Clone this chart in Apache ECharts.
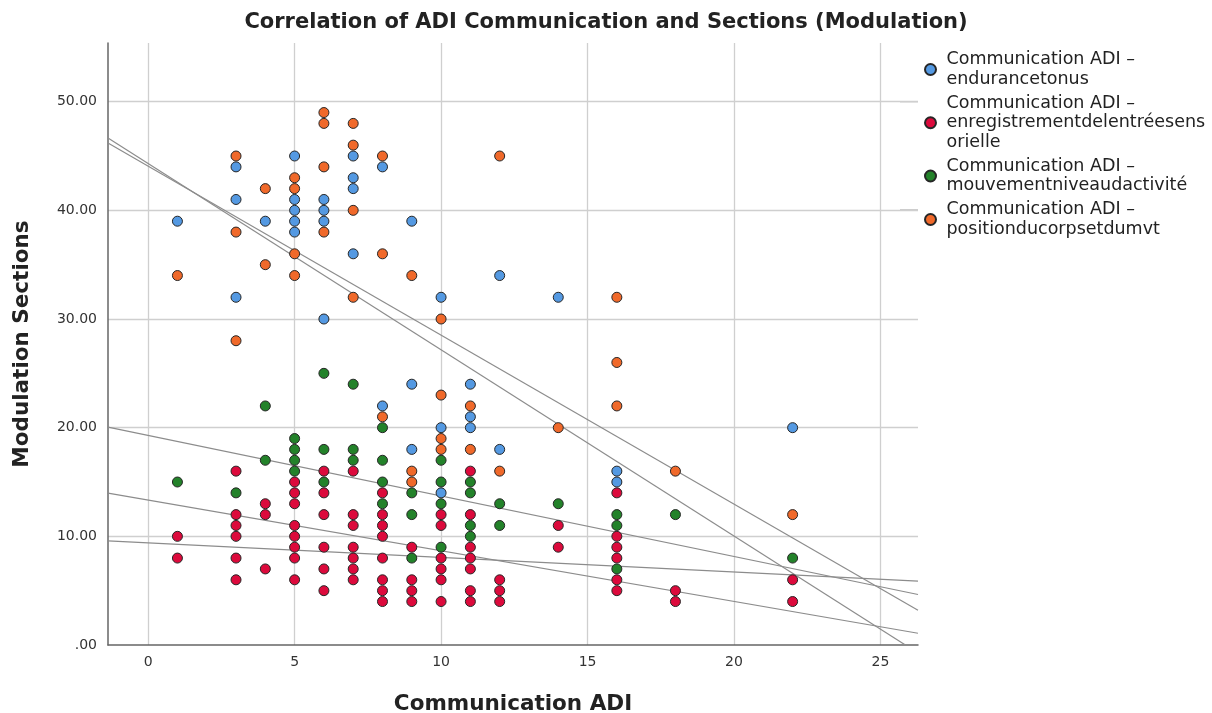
<!DOCTYPE html>
<html>
<head>
<meta charset="utf-8">
<style>
  html, body { margin: 0; padding: 0; background: #fff; }
  #chart { width: 1212px; height: 713px; }
</style>
<script src="https://cdn.jsdelivr.net/npm/echarts@6/dist/echarts.min.js"></script>
</head>
<body>
<div id="chart"></div>
<script>
// ---- data ----
const X_TICKS = [0, 5, 10, 15, 20, 25];
const X_RANGE = [-1.37, 26.28];
const Y_RANGE = [0, 55.4];

const SERIES_NAMES = [
  'Communication ADI –\nendurancetonus',
  'Communication ADI –\nenregistrementdelentréesens\norielle',
  'Communication ADI –\nmouvementniveaudactivité',
  'Communication ADI –\npositionducorpsetdumvt',
];
const SERIES_COLORS = ['#5499e2', '#dc0a3c', '#23822a', '#f0692a'];

// [Communication ADI, Modulation Sections]
const endurance = [
  [1, 39], [3, 44], [3, 41], [3, 32], [4, 39], [5, 45], [5, 41], [5, 40], [5, 39], [5, 38],
  [6, 41], [6, 40], [6, 39], [6, 30], [7, 45], [7, 43], [7, 42], [7, 36], [8, 44], [8, 22],
  [9, 39], [9, 24], [9, 18], [10, 32], [10, 20], [10, 14], [11, 24], [11, 21], [11, 20],
  [12, 34], [12, 18], [14, 32], [16, 16], [16, 15], [22, 20],
];
const enregistrement = [
  [1, 10], [1, 8], [3, 16], [3, 12], [3, 11], [3, 10], [3, 8], [3, 6], [4, 13], [4, 12], [4, 7],
  [5, 15], [5, 14], [5, 13], [5, 11], [5, 10], [5, 9], [5, 8], [5, 6],
  [6, 16], [6, 14], [6, 12], [6, 9], [6, 7], [6, 5],
  [7, 16], [7, 12], [7, 11], [7, 9], [7, 8], [7, 7], [7, 6],
  [8, 14], [8, 12], [8, 11], [8, 10], [8, 8], [8, 6], [8, 5], [8, 4],
  [9, 9], [9, 6], [9, 5], [9, 4],
  [10, 12], [10, 11], [10, 8], [10, 7], [10, 6], [10, 4],
  [11, 16], [11, 12], [11, 9], [11, 8], [11, 7], [11, 5], [11, 4],
  [12, 6], [12, 5], [12, 4], [14, 11], [14, 9],
  [16, 14], [16, 10], [16, 9], [16, 8], [16, 6], [16, 5], [18, 5], [18, 4], [22, 6], [22, 4],
];
const mouvement = [
  [1, 15], [3, 14], [4, 22], [4, 17], [5, 19], [5, 18], [5, 17], [5, 16], [6, 25], [6, 18], [6, 15],
  [7, 24], [7, 18], [7, 17], [8, 20], [8, 17], [8, 15], [8, 13], [9, 14], [9, 12], [9, 8],
  [10, 17], [10, 15], [10, 13], [10, 9], [11, 15], [11, 14], [11, 11], [11, 10], [12, 13], [12, 11],
  [14, 13], [16, 12], [16, 11], [16, 7], [18, 12], [22, 8],
];
const position = [
  [1, 34], [3, 45], [3, 38], [3, 28], [4, 42], [4, 35], [5, 43], [5, 42], [5, 36], [5, 34],
  [6, 49], [6, 48], [6, 44], [6, 38], [7, 48], [7, 46], [7, 40], [7, 32], [8, 45], [8, 36], [8, 21],
  [9, 34], [9, 16], [9, 15], [10, 30], [10, 23], [10, 19], [10, 18], [11, 22], [11, 18],
  [12, 45], [12, 16], [14, 20], [16, 32], [16, 26], [16, 22], [18, 16], [22, 12],
];

// fit lines, end points read at the plot edges: [x0, y0, x1, y1]
const fitLines = [
  [-1.37, 46.65, 25.85, 0],
  [-1.37, 46.2, 26.28, 3.2],
  [-1.37, 20.05, 26.28, 4.65],
  [-1.37, 13.97, 26.28, 1.08],
  [-1.37, 9.58, 26.28, 5.88],
];

// ---- chart ----
const font = "'DejaVu Sans', sans-serif";
const ink = '#222';
const gridColor = '#cfcfcf';
const axisColor = '#666';

const chart = echarts.init(document.getElementById('chart'), null, {renderer: 'canvas'});

const lineSeries = fitLines.map(l => ({
  type: 'line',
  data: [[l[0], l[1]], [l[2], l[3]]],
  symbol: 'none',
  silent: true,
  clip: true,
  z: 1,
  lineStyle: {color: '#8c8c8c', width: 1.2},
  emphasis: {disabled: true},
}));

const scatterSeries = [endurance, enregistrement, mouvement, position].map((pts, i) => ({
  name: SERIES_NAMES[i],
  type: 'scatter',
  data: pts,
  symbol: 'circle',
  symbolSize: 10,
  z: 3,
  itemStyle: {color: SERIES_COLORS[i], borderColor: '#262626', borderWidth: 1, opacity: 1},
}));

chart.setOption({
  animation: false,
  backgroundColor: '#fff',
  title: {
    text: 'Correlation of ADI Communication and Sections (Modulation)',
    left: 'center',
    top: 7,
    textStyle: {fontFamily: font, fontSize: 21, fontWeight: 'bold', color: ink},
  },
  grid: {left: 108, right: 294, top: 43, bottom: 68, containLabel: false, outerBoundsMode: 'none'},
  legend: {
    orient: 'vertical',
    left: 919,
    top: 45,
    itemWidth: 22,
    itemHeight: 11,
    itemGap: 4.5,
    icon: 'circle',
    data: SERIES_NAMES,
    textStyle: {fontFamily: font, fontSize: 17.5, lineHeight: 19.5, color: ink},
  },
  graphic: [
    {type: 'line', shape: {x1: 900, y1: 102, x2: 918, y2: 102}, style: {stroke: '#d0d0d0', lineWidth: 1}},
    {type: 'line', shape: {x1: 900, y1: 210, x2: 918, y2: 210}, style: {stroke: '#9a9a9a', lineWidth: 1}},
  ],
  xAxis: {
    type: 'value',
    min: X_RANGE[0],
    max: X_RANGE[1],
    name: 'Communication ADI',
    nameLocation: 'middle',
    nameGap: 48,
    nameTextStyle: {fontFamily: font, fontSize: 21.5, fontWeight: 'bold', color: ink},
    axisLine: {show: true, onZero: false, lineStyle: {color: axisColor, width: 1.5}},
    axisTick: {show: false, customValues: X_TICKS},
    axisLabel: {customValues: X_TICKS, color: '#333', fontFamily: font, fontSize: 14, margin: 10},
    splitLine: {show: true, lineStyle: {color: gridColor, width: 1.3}},
  },
  yAxis: {
    type: 'value',
    min: Y_RANGE[0],
    max: Y_RANGE[1],
    interval: 10,
    name: 'Modulation Sections',
    nameLocation: 'middle',
    nameGap: 75,
    nameTextStyle: {fontFamily: font, fontSize: 21.5, fontWeight: 'bold', color: ink},
    axisLine: {show: true, onZero: false, lineStyle: {color: axisColor, width: 1.5}},
    axisTick: {show: false},
    axisLabel: {
      color: '#333', fontFamily: font, fontSize: 14, margin: 11,
      showMaxLabel: false,
      formatter: v => (v === 0 ? '.00' : v.toFixed(2)),
    },
    splitLine: {show: true, showMaxLine: false, showMinLine: false, lineStyle: {color: gridColor, width: 1.3}},
  },
  series: [...lineSeries, ...scatterSeries],
});
</script>
</body>
</html>
